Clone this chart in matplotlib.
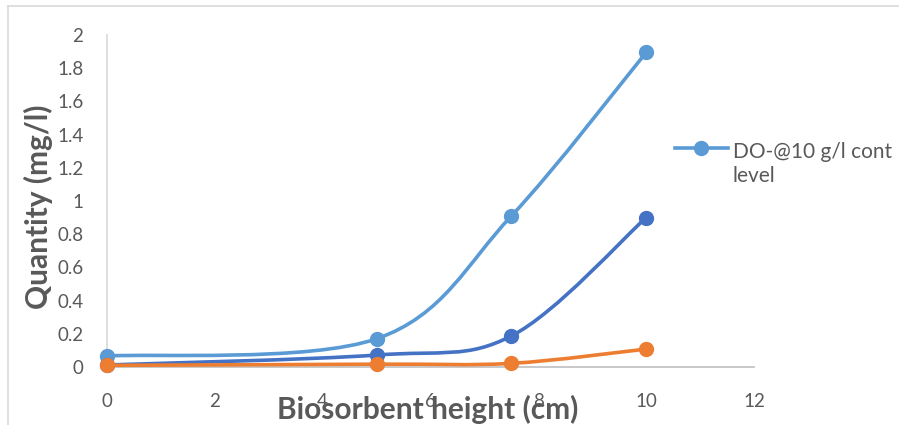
import matplotlib
matplotlib.use("Agg")
import matplotlib.pyplot as plt
from matplotlib.path import Path
from matplotlib.patches import PathPatch
from matplotlib.lines import Line2D
import numpy as np

# Biosorbent heights (cm) and measured quantities (mg/l)
heights = [0, 5, 7.5, 10]
do_10gl = [0.066, 0.17, 0.91, 1.895]
series_b = [0.012, 0.072, 0.187, 0.90]
series_c = [0.010, 0.017, 0.022, 0.108]

x_ticks = [0, 2, 4, 6, 8, 10, 12]
y_ticks = [0, 0.2, 0.4, 0.6, 0.8, 1, 1.2, 1.4, 1.6, 1.8, 2]
y_tick_labels = ["0", "0.2", "0.4", "0.6", "0.8", "1", "1.2", "1.4", "1.6", "1.8", "2"]

legend_label = "DO-@10 g/l cont\nlevel"

C_LIGHT = "#5B9BD5"
C_DARK = "#4472C4"
C_ORANGE = "#ED7D31"
TXT = "#595959"
AXIS = "#D9D9D9"
FONT = "Lato"

W, H = 899, 425
fig = plt.figure(figsize=(W / 100, H / 100), dpi=100)


def fx(px):
    return px / W


def fy(py):
    return 1 - py / H


# outer chart border
fig.add_artist(Line2D([fx(8), fx(8)], [fy(6), 0], color=AXIS, lw=1.2))
fig.add_artist(Line2D([fx(8), 1], [fy(6), fy(6)], color=AXIS, lw=1.2))

ax = fig.add_axes([fx(107), fy(367), fx(754) - fx(107), fy(35) - fy(367)])
ax.set_xlim(0, 12)
ax.set_ylim(0, 2)


def smooth_path(xs, ys):
    """Cubic Bezier through the points with Catmull-Rom style control points."""
    pts = np.column_stack([xs, ys]).astype(float)
    n = len(pts)
    verts = [pts[0]]
    codes = [Path.MOVETO]
    for i in range(n - 1):
        p0 = pts[i - 1] if i > 0 else pts[i]
        p1 = pts[i]
        p2 = pts[i + 1]
        p3 = pts[i + 2] if i + 2 < n else pts[i + 1]
        c1 = p1 + (p2 - p0) / 6.0
        c2 = p2 - (p3 - p1) / 6.0
        verts += [c1, c2, p2]
        codes += [Path.CURVE4] * 3
    return Path(verts, codes)


for ys, col, z in [(do_10gl, C_LIGHT, 3), (series_b, C_DARK, 4), (series_c, C_ORANGE, 5)]:
    ax.add_patch(PathPatch(smooth_path(heights, ys), facecolor="none", edgecolor=col,
                           lw=2.6, capstyle="round", zorder=z, clip_on=False))
    ax.plot(heights, ys, linestyle="none", marker="o", markersize=10, color=col,
            zorder=z + 0.5, clip_on=False)

for side in ["top", "right"]:
    ax.spines[side].set_visible(False)
ax.spines["left"].set_color(AXIS)
ax.spines["bottom"].set_color("#BFBFBF")
ax.spines["left"].set_linewidth(1.2)
ax.spines["bottom"].set_linewidth(1.2)

ax.set_xticks(x_ticks)
ax.set_xticklabels([str(t) for t in x_ticks])
ax.set_yticks(y_ticks)
ax.set_yticklabels(y_tick_labels)
ax.tick_params(axis="both", length=0, labelsize=13.5, labelcolor=TXT)
ax.tick_params(axis="x", pad=19)
ax.tick_params(axis="y", pad=17)
for lab in ax.get_xticklabels() + ax.get_yticklabels():
    lab.set_fontfamily(FONT)

fig.text(fx(428), fy(409), "Biosorbent height (cm)", ha="center", va="center",
         fontsize=21.5, fontweight="bold", color=TXT, family=FONT)
fig.text(fx(38), fy(207), "Quantity (mg/l)", ha="center", va="center", rotation=90,
         fontsize=21.5, fontweight="bold", color=TXT, family=FONT)

# legend entry
fig.add_artist(Line2D([fx(675), fx(728)], [fy(148), fy(148)], color=C_LIGHT, lw=2.6))
fig.add_artist(Line2D([fx(701)], [fy(148)], marker="o", markersize=10, color=C_LIGHT,
                      linestyle="none"))
fig.text(fx(733), fy(164), legend_label, ha="left", va="center", fontsize=15,
         color=TXT, family=FONT, linespacing=1.25)

fig.savefig("out.png", dpi=100)
